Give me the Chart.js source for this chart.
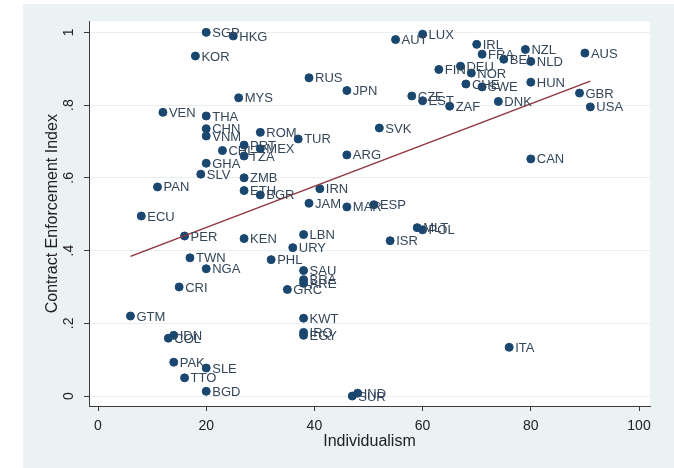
<!DOCTYPE html>
<html>
<head>
<meta charset="utf-8">
<script src="https://cdn.jsdelivr.net/npm/chart.js@4.4.1/dist/chart.umd.min.js"></script>
<style>
  html, body { margin: 0; padding: 0; background: #fff; }
  #wrap { position: absolute; left: 23px; top: 4px; width: 651px; height: 464px; background: #eaf2f3; }
  canvas { display: block; }
</style>
</head>
<body>
<div id="wrap"><canvas id="c" width="651" height="464"></canvas></div>
<script>
// country codes, individualism score, contract enforcement index
const countries = [
  'SGP', 'HKG', 'KOR', 'MYS', 'VEN', 'THA', 'CHN', 'VNM', 'ROM', 'TUR',
  'CHL', 'PRT', 'MEX', 'TZA', 'GHA', 'SLV', 'ZMB', 'ETH', 'BGR', 'PAN',
  'ECU', 'PER', 'KEN', 'TWN', 'NGA', 'CRI', 'GTM', 'IDN', 'COL', 'PAK',
  'SLE', 'TTO', 'BGD', 'RUS', 'JPN', 'SVK', 'ARG', 'IRN', 'JAM', 'MAR',
  'ESP', 'LBN', 'URY', 'PHL', 'SAU', 'BRA', 'ARE', 'GRC', 'KWT', 'IRQ',
  'EGY', 'SUR', 'IND', 'AUT', 'LUX', 'IRL', 'FRA', 'BEL', 'NZL', 'NLD',
  'AUS', 'FIN', 'DEU', 'NOR', 'CHE', 'SWE', 'HUN', 'CZE', 'EST', 'ZAF',
  'DNK', 'GBR', 'USA', 'CAN', 'ISR', 'ITA', 'MLT', 'POL'
];
const individualism = [
  20, 25, 18, 26, 12, 20, 20, 20, 30, 37,
  23, 27, 30, 27, 20, 19, 27, 27, 30, 11,
  8, 16, 27, 17, 20, 15, 6, 14, 13, 14,
  20, 16, 20, 39, 46, 52, 46, 41, 39, 46,
  51, 38, 36, 32, 38, 38, 38, 35, 38, 38,
  38, 47, 48, 55, 60, 70, 71, 75, 79, 80,
  90, 63, 67, 69, 68, 71, 80, 58, 60, 65,
  74, 89, 91, 80, 54, 76, 59, 60
];
const enforcement = [
  1.0, 0.99, 0.935, 0.82, 0.78, 0.77, 0.735, 0.715, 0.725, 0.707,
  0.675, 0.69, 0.68, 0.66, 0.64, 0.61, 0.60, 0.565, 0.553, 0.575,
  0.495, 0.44, 0.433, 0.38, 0.35, 0.30, 0.22, 0.167, 0.159, 0.093,
  0.077, 0.05, 0.013, 0.875, 0.84, 0.737, 0.663, 0.57, 0.53, 0.52,
  0.526, 0.444, 0.408, 0.375, 0.345, 0.32, 0.31, 0.293, 0.214, 0.175,
  0.167, 0.0, 0.008, 0.98, 0.995, 0.967, 0.94, 0.926, 0.953, 0.92,
  0.943, 0.898, 0.907, 0.888, 0.858, 0.85, 0.863, 0.825, 0.812, 0.797,
  0.81, 0.833, 0.795, 0.652, 0.427, 0.134, 0.463, 0.457
];

// fitted line ends
const fitX = [6, 91];
const fitY = [0.384, 0.866];

const xTicks = [0, 20, 40, 60, 80, 100];
const yTicks = [0, 0.2, 0.4, 0.6, 0.8, 1];
const yTickLabels = ['0', '.2', '.4', '.6', '.8', '1'];

const FONT = '"Liberation Sans", Arial, sans-serif';
const NAVY = '#1a476f';
const AXIS = '#3c3c3c';

const plotBg = {
  id: 'plotBg',
  beforeDraw(chart) {
    const { ctx, chartArea: a } = chart;
    ctx.save();
    ctx.fillStyle = '#ffffff';
    ctx.fillRect(a.left, a.top, a.right - a.left, a.bottom - a.top);
    ctx.restore();
  },
};

const pointLabels = {
  id: 'pointLabels',
  afterDatasetsDraw(chart) {
    const { ctx } = chart;
    const meta = chart.getDatasetMeta(0);
    ctx.save();
    ctx.font = '13px ' + FONT;
    ctx.fillStyle = '#34475a';
    ctx.textAlign = 'left';
    ctx.textBaseline = 'middle';
    meta.data.forEach((pt, i) => {
      ctx.fillText(countries[i], pt.x + 6, pt.y + 1);
    });
    ctx.restore();
  },
};

new Chart(document.getElementById('c'), {
  type: 'scatter',
  data: {
    datasets: [
      {
        data: individualism.map((x, i) => ({ x, y: enforcement[i] })),
        backgroundColor: NAVY,
        borderColor: NAVY,
        pointRadius: 4,
        order: 1,
      },
      {
        data: fitX.map((x, i) => ({ x, y: fitY[i] })),
        showLine: true,
        borderColor: '#90353b',
        borderWidth: 1.5,
        pointRadius: 0,
        order: 0,
      },
    ],
  },
  options: {
    responsive: false,
    animation: false,
    layout: { padding: { left: 0, right: 24, top: 16, bottom: 0 } },
    plugins: { legend: { display: false }, tooltip: { enabled: false } },
    scales: {
      x: {
        type: 'linear',
        min: -1.664,
        max: 102.03,
        afterFit: (s) => { s.height = 62; },
        afterBuildTicks: (s) => { s.ticks = xTicks.map((v) => ({ value: v })); },
        grid: { drawOnChartArea: false, tickLength: 5, tickColor: AXIS },
        border: { color: AXIS, width: 1 },
        ticks: { color: '#222', font: { family: FONT, size: 14 }, padding: 7, maxRotation: 0 },
        title: { display: true, text: 'Individualism', color: '#222', font: { family: FONT, size: 16 }, padding: { top: 0, bottom: 17 } },
      },
      y: {
        type: 'linear',
        min: -0.0274,
        max: 1.0301,
        afterFit: (s) => { s.width = 66; },
        afterBuildTicks: (s) => { s.ticks = yTicks.map((v) => ({ value: v })); },
        grid: { color: '#e9eff1', tickLength: 5, tickColor: AXIS },
        border: { color: AXIS, width: 1 },
        ticks: {
          color: '#222',
          font: { family: FONT, size: 14 },
          padding: 9,
          minRotation: 90,
          maxRotation: 90,
          crossAlign: 'center',
          callback: (v) => yTickLabels[yTicks.indexOf(v)] ?? '',
        },
        title: { display: true, text: 'Contract Enforcement Index', color: '#222', font: { family: FONT, size: 16 }, padding: { top: 20, bottom: 0 } },
      },
    },
  },
  plugins: [plotBg, pointLabels],
});
</script>
</body>
</html>
